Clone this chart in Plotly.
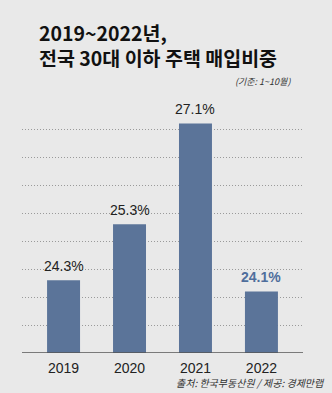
import plotly.graph_objects as go

years = ["2019", "2020", "2021", "2022"]
shares = [24.3, 25.3, 27.1, 24.1]
label_colors = ["#222222", "#222222", "#222222", "#4f6e9c"]

title_line1 = "2019~2022년,"
title_line2 = "전국 30대 이하 주택 매입비중"
subtitle = "(기준: 1~10월)"
source = "출처: 한국부동산원 / 제공: 경제만랩"

BAR = "#5b7499"
BG = "#e9e9e9"
NUM_FONT = "Liberation Sans, Arial, sans-serif"
KR_FONT = "Noto Sans CJK KR, sans-serif"

xs = list(range(len(years)))

fig = go.Figure()
fig.add_trace(go.Bar(
    x=xs, y=shares, width=0.5,
    marker=dict(color=BAR, line=dict(width=0)),
    hoverinfo="skip",
))

for i, (v, c) in enumerate(zip(shares, label_colors)):
    txt = f"{v:.1f}%"
    if i == len(shares) - 1:
        txt = f"<b>{txt}</b>"
    fig.add_annotation(
        x=i, y=v, xref="x", yref="y", text=txt, showarrow=False,
        yanchor="bottom", yshift=4,
        font=dict(family=NUM_FONT, size=14, color=c),
    )

fig.add_annotation(xref="paper", yref="paper", x=0, y=1, xshift=15, yshift=85,
                   xanchor="left", yanchor="top", showarrow=False, align="left",
                   text=f"<b>{title_line1}</b><br><b>{title_line2}</b>",
                   font=dict(family=KR_FONT, size=19.5, color="#111111"))
fig.add_annotation(xref="paper", yref="paper", x=1, y=1, xshift=-10, yshift=11,
                   xanchor="right", yanchor="bottom", showarrow=False,
                   text=f"<i>{subtitle}</i>",
                   font=dict(family=KR_FONT, size=9, color="#333333"))
fig.add_annotation(xref="paper", yref="paper", x=1, y=0, xshift=24, yshift=-39,
                   xanchor="right", yanchor="bottom", showarrow=False,
                   text=f"<i>{source}</i>",
                   font=dict(family=KR_FONT, size=10, color="#333333"))

fig.update_layout(
    width=332, height=393,
    margin=dict(l=22, r=29, t=101, b=40),
    paper_bgcolor=BG, plot_bgcolor=BG,
    showlegend=False,
    xaxis=dict(
        tickvals=xs, ticktext=years, range=[-0.63, 3.63],
        showgrid=False, zeroline=False, showline=False,
        ticks="", ticklabelstandoff=5,
        tickfont=dict(family=NUM_FONT, size=14, color="#222222"),
        fixedrange=True,
    ),
    yaxis=dict(
        range=[23, 27.5], dtick=0.5, tick0=23,
        showticklabels=False, ticks="",
        showgrid=True, gridcolor="#9a9a9a", griddash="1px,2px", gridwidth=1,
        zeroline=False, showline=False, fixedrange=True,
    ),
)

fig.add_shape(type="line", xref="paper", yref="y", x0=0, x1=1, y0=23, y1=23,
              line=dict(color="#555555", width=1.5))

fig.write_html("out.html")
